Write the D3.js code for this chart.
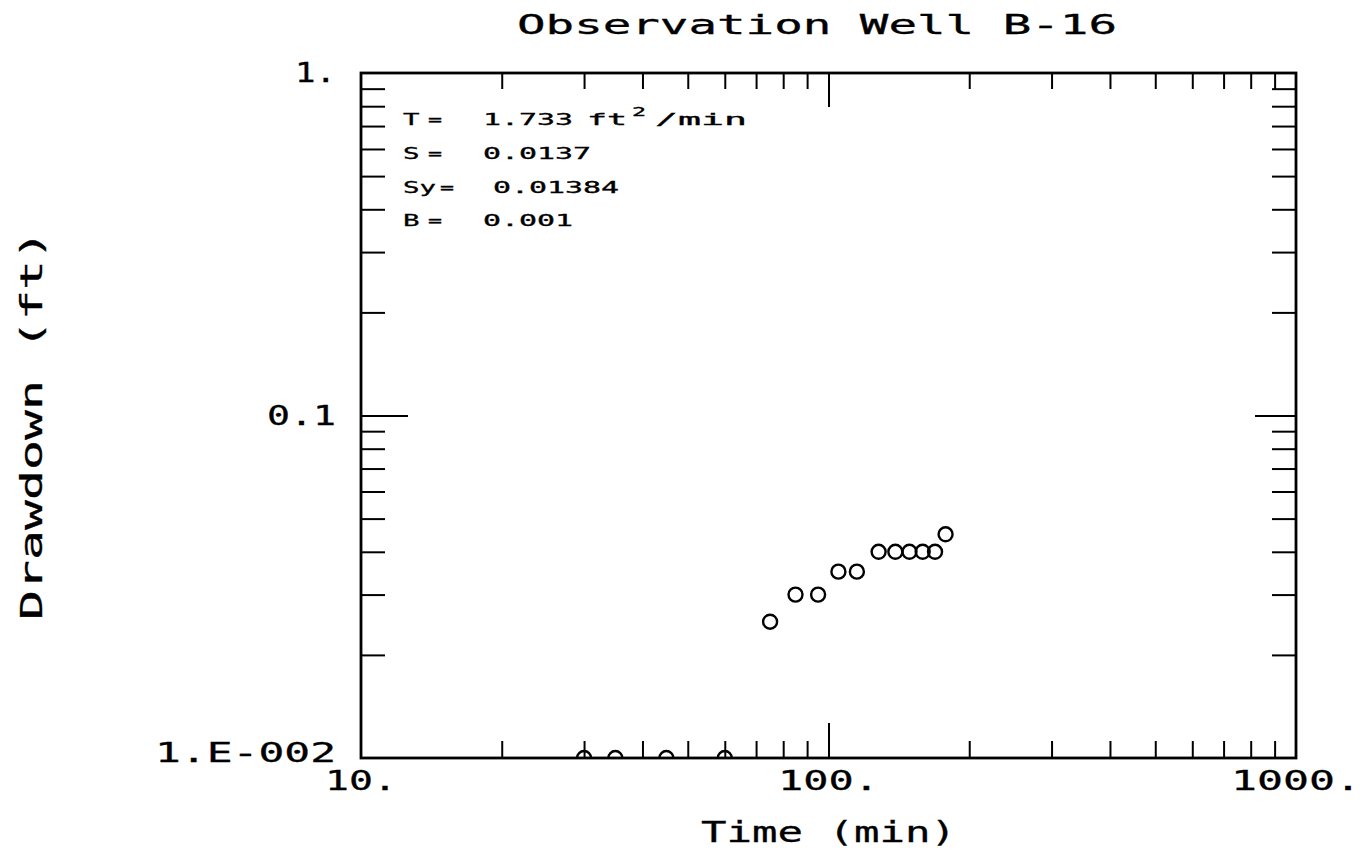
<!DOCTYPE html>
<html>
<head>
<meta charset="utf-8">
<script src="https://cdn.jsdelivr.net/npm/d3@7"></script>
<style>
  body { margin: 0; background: #fff; }
  svg { display: block; }
  text { font-family: "DejaVu Sans Mono", monospace; fill: #000; }
  .heavy { stroke: #000; stroke-width: 0.3; }
</style>
</head>
<body>
<div id="chart"></div>
<script>
// observation data
const times = [30, 35, 45, 60, 75, 85, 95, 105, 115, 128, 139, 149, 159, 169, 178]
const drawdowns = [0.01, 0.01, 0.01, 0.01, 0.025, 0.03, 0.03, 0.035, 0.035, 0.04, 0.04, 0.04, 0.04, 0.04, 0.045]

const xMinorTicks = [20, 30, 40, 50, 60, 70, 80, 90, 200, 300, 400, 500, 600, 700, 800, 900]
const xMajorTicks = [100]
const yMinorTicks = [0.02, 0.03, 0.04, 0.05, 0.06, 0.07, 0.08, 0.09, 0.2, 0.3, 0.4, 0.5, 0.6, 0.7, 0.8, 0.9]
const yMajorTicks = [0.1]

const xTickLabels = [[10, '10.'], [100, '100.'], [1000, '1000.']]
const yTickLabels = [[1, '1.'], [0.1, '0.1'], [0.01, '1.E-002']]

const paramNames = ['T', 'S', 'Sy', 'B']
const paramValues = ['1.733', '0.0137', '0.01384', '0.001']

const W = 1367, H = 852
const margin = { top: 73, right: 71, bottom: 94, left: 361 }
const width = W - margin.left - margin.right
const height = H - margin.top - margin.bottom

// stretched plotter-like lettering
const labelLength = (s, pitch, dot) => [...s].reduce((a, c) => a + (c === '.' ? dot : pitch), 0)

const svg = d3.select('#chart').append('svg')
  .attr('width', W)
  .attr('height', H)

const x = d3.scaleLog().domain([10, 1000]).range([margin.left, margin.left + width])
const y = d3.scaleLog().domain([0.01, 1]).range([margin.top + height, margin.top])

svg.append('defs').append('clipPath').attr('id', 'plot-clip')
  .append('rect')
  .attr('x', margin.left).attr('y', margin.top)
  .attr('width', width).attr('height', height)

const drawTicks = (axis, transform) => {
  const g = svg.append('g').attr('transform', transform).call(axis)
  g.select('.domain').remove()
  g.selectAll('.tick line').attr('stroke', '#000').attr('stroke-width', 2)
  g.selectAll('.tick text').remove()
}

const bottom = margin.top + height
const right = margin.left + width

drawTicks(d3.axisBottom(x).tickValues(xMinorTicks).tickSize(-17), `translate(0,${bottom})`)
drawTicks(d3.axisBottom(x).tickValues(xMajorTicks).tickSize(-35), `translate(0,${bottom})`)
drawTicks(d3.axisTop(x).tickValues(xMinorTicks).tickSize(-16), `translate(0,${margin.top})`)
drawTicks(d3.axisTop(x).tickValues(xMajorTicks).tickSize(-34), `translate(0,${margin.top})`)
drawTicks(d3.axisLeft(y).tickValues(yMinorTicks).tickSize(-24), `translate(${margin.left},0)`)
drawTicks(d3.axisLeft(y).tickValues(yMajorTicks).tickSize(-47), `translate(${margin.left},0)`)
drawTicks(d3.axisRight(y).tickValues(yMinorTicks).tickSize(-24), `translate(${right},0)`)
drawTicks(d3.axisRight(y).tickValues(yMajorTicks).tickSize(-41), `translate(${right},0)`)

svg.append('rect')
  .attr('x', margin.left).attr('y', margin.top)
  .attr('width', width).attr('height', height)
  .attr('fill', 'none')
  .attr('stroke', '#000')
  .attr('stroke-width', 2.8)

// tick labels
svg.append('g').attr('class', 'heavy').selectAll('text')
  .data(xTickLabels)
  .join('text')
  .attr('x', d => x(d[0]))
  .attr('y', bottom + 32)
  .attr('text-anchor', 'middle')
  .attr('font-size', 27)
  .attr('textLength', d => labelLength(d[1], 29, 14))
  .attr('lengthAdjust', 'spacingAndGlyphs')
  .text(d => d[1])

svg.append('g').attr('class', 'heavy').selectAll('text')
  .data(yTickLabels)
  .join('text')
  .attr('x', 336)
  .attr('y', d => y(d[0]) + (d[0] === 0.01 ? 4 : 9))
  .attr('text-anchor', 'end')
  .attr('font-size', 27)
  .attr('textLength', d => labelLength(d[1], 28, 13))
  .attr('lengthAdjust', 'spacingAndGlyphs')
  .text(d => d[1])

// titles
svg.append('text')
  .attr('class', 'heavy')
  .attr('x', 517).attr('y', 34)
  .attr('font-size', 26)
  .attr('textLength', 600)
  .attr('lengthAdjust', 'spacingAndGlyphs')
  .text('Observation Well B-16')

svg.append('text')
  .attr('class', 'heavy')
  .attr('x', margin.left + width / 2).attr('y', 842)
  .attr('text-anchor', 'middle')
  .attr('font-size', 29)
  .attr('textLength', 255)
  .attr('lengthAdjust', 'spacingAndGlyphs')
  .text('Time (min)')

svg.append('text')
  .attr('class', 'heavy')
  .attr('transform', 'translate(42,620) rotate(-90)')
  .attr('font-size', 30)
  .attr('textLength', 390)
  .attr('lengthAdjust', 'spacingAndGlyphs')
  .text('Drawdown (ft)')

// fitted parameters
const params = svg.append('g').attr('font-size', 15).attr('class', 'heavy')
const rowY = [125, 159, 193, 226]
paramNames.forEach((name, i) => {
  const wide = name.length > 1
  params.append('text')
    .attr('x', 403).attr('y', rowY[i])
    .attr('textLength', name.length * 16.5)
    .attr('lengthAdjust', 'spacingAndGlyphs')
    .text(name)
  params.append('text')
    .attr('x', wide ? 440 : 428).attr('y', rowY[i])
    .attr('textLength', 14)
    .attr('lengthAdjust', 'spacingAndGlyphs')
    .text('=')
  params.append('text')
    .attr('x', wide ? 493 : 483).attr('y', rowY[i])
    .attr('textLength', paramValues[i].length * 18)
    .attr('lengthAdjust', 'spacingAndGlyphs')
    .text(paramValues[i])
})
params.append('text').attr('x', 587).attr('y', rowY[0])
  .attr('textLength', 40).attr('lengthAdjust', 'spacingAndGlyphs').text('ft')
params.append('text').attr('x', 632).attr('y', rowY[0] - 9)
  .attr('font-size', 12)
  .attr('textLength', 14).attr('lengthAdjust', 'spacingAndGlyphs').text('2')
params.append('text').attr('x', 655).attr('y', rowY[0])
  .attr('textLength', 92).attr('lengthAdjust', 'spacingAndGlyphs').text('/min')

// data points
svg.append('g')
  .attr('clip-path', 'url(#plot-clip)')
  .selectAll('circle')
  .data(times.map((t, i) => ({ t, s: drawdowns[i] })))
  .join('circle')
  .attr('cx', d => x(d.t))
  .attr('cy', d => y(d.s))
  .attr('r', 7)
  .attr('fill', 'none')
  .attr('stroke', '#000')
  .attr('stroke-width', 2.4)
</script>
</body>
</html>
